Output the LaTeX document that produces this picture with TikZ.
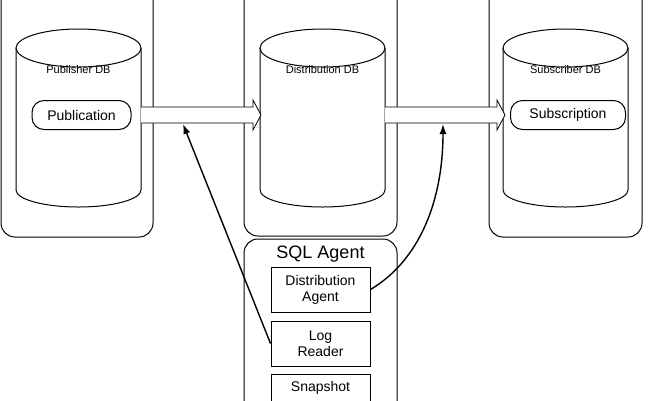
\documentclass[tikz,border=0pt]{standalone}
\usepackage{fontspec}
\setmainfont{Liberation Sans}
\usetikzlibrary{arrows.meta}
\begin{document}
\begin{tikzpicture}[x=1pt,y=-1pt,line width=1pt,
  outer/.style={draw,rounded corners=14pt},
  inner/.style={draw,fill=white,minimum width=99pt,align=center,font=\fontsize{14}{16}\selectfont,inner sep=1pt},
  big/.style={draw,fill=white,line width=0.8pt},
  lbl/.style={font=\fontsize{11}{12}\selectfont},
  conn/.style={-{Latex[length=10pt,width=7pt]},line width=1.4pt}]
\useasboundingbox (0,0) rectangle (650,400);
\draw[outer] (1,-15) rectangle (153,237);
\draw[outer] (244,-15) rectangle (397,236);
\draw[outer] (489,-15) rectangle (642,237);
\draw[outer] (244,239) rectangle (397,420);
% cylinders
\foreach \cx in {78.5,322.5,565.5}{
  \draw[fill=white] (\cx-62.5,48) -- (\cx-62.5,190) arc[start angle=180,end angle=0,x radius=62.5,y radius=17] -- (\cx+62.5,48);
  \draw[fill=white] (\cx,48) ellipse[x radius=62.5,y radius=19];
}
\node[lbl] (pdb) at (78.5,70) {Publisher DB};
\node[lbl] (ddb) at (322.5,70) {Distribution DB};
\node[lbl] (sdb) at (565.5,70) {Subscriber DB};
\node[draw,rounded corners=12pt,minimum height=29pt,minimum width=99pt,font=\fontsize{14}{16}\selectfont] (pub) at (81.5,115) {Publication};
\node[draw,rounded corners=12pt,minimum height=29pt,minimum width=115pt,font=\fontsize{14}{16}\selectfont] (sub) at (568,115) {Subscription};
% hollow arrows
\draw[big] (141,107) -- (253,107) -- (253,100) -- (261,115) -- (253,130) -- (253,123) -- (141,123);
\draw[big] (385,107) -- (497,107) -- (497,100) -- (505,115) -- (497,130) -- (497,123) -- (385,123);
\coordinate (t1) at (183,124);
\coordinate (t2) at (443,124);
\node[font=\fontsize{18}{20}\selectfont] (sql) at (320.5,254) {SQL Agent};
\node[inner,minimum height=45pt] (da) at (320.5,289.5) {Distribution\\Agent};
\node[inner,minimum height=45pt] (lr) at (320.5,343.5) {Log\\Reader};
\node[inner,minimum height=45pt,anchor=north] (sn) at (320.5,374) {Snapshot\\ \strut};
\draw[conn] (lr.west) -- (t1);
\draw[conn] (da.east) .. controls (420,260) and (443,200) .. (t2);
\end{tikzpicture}
\end{document}
